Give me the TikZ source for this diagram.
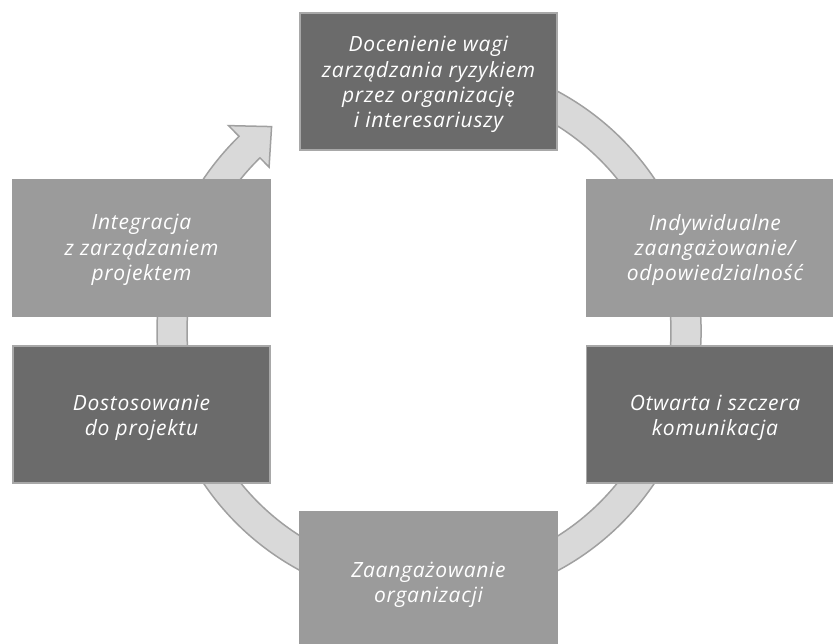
\documentclass[tikz,border=0pt]{standalone}
\usepackage{fontspec}
\setmainfont{Open Sans}
\newfontfamily\boxfont[LetterSpace=3.5]{Open Sans}
\definecolor{darkbox}{HTML}{6B6B6B}
\definecolor{midbox}{HTML}{9B9B9B}
\definecolor{boxline}{HTML}{A8A8A8}
\definecolor{ringfill}{HTML}{D9D9D9}
\definecolor{ringline}{HTML}{A0A0A0}
\begin{document}
\begin{tikzpicture}[x=1pt,y=-1pt,
  box/.style={draw=boxline,line width=1.8pt,minimum width=257pt,minimum height=137pt,inner sep=0pt},
  darkb/.style={box,fill=darkbox},
  midb/.style={box,fill=midbox,draw=midbox},
  txt/.style={text=white,align=center,inner sep=0pt,font=\boxfont\fontsize{21}{25.3}\selectfont\itshape}]
\useasboundingbox (0,0) rectangle (833,643);
\clip (0,0) rectangle (833,643);
\fill[white] (0,0) rectangle (833,643);
\coordinate (c) at (429,331);
% ring arrow
\draw[fill=ringfill,draw=ringline,line width=1.5pt,line join=miter]
  ([shift={(-110:272)}]c) arc[start angle=-110,end angle=225.7,radius=272]
  -- ([shift={(225.7:287)}]c)
  -- ([shift={(232.4:258)}]c)
  -- ([shift={(225.7:229)}]c)
  -- ([shift={(225.7:242)}]c)
  arc[start angle=225.7,end angle=-110,radius=242] -- cycle;
% boxes
\node[darkb] (top) at (428.5,81.5) {};
\node[midb] (rt) at (715,248) {};
\node[darkb] (rb) at (715,414.5) {};
\node[midb] (bot) at (428.5,580.5) {};
\node[darkb] (lb) at (141.5,414.5) {};
\node[midb] (lt) at (141.5,248) {};
% texts
\node[txt] (top-t) at ([yshift=-3pt]top.center) {Docenienie wagi\\zarządzania ryzykiem\\przez organizację\\i interesariuszy};
\node[txt] (rt-t) at ([yshift=-2pt]rt.center) {Indywidualne\\zaangażowanie/\\odpowiedzialność};
\node[txt] (rb-t) at ([yshift=-3pt]rb.center) {Otwarta i szczera\\komunikacja};
\node[txt] (bot-t) at ([yshift=-4pt]bot.center) {Zaangażowanie\\organizacji};
\node[txt] (lb-t) at ([yshift=-3pt]lb.center) {Dostosowanie\\do projektu};
\node[txt] (lt-t) at ([yshift=-2pt]lt.center) {Integracja\\z zarządzaniem\\projektem};
\end{tikzpicture}
\end{document}
